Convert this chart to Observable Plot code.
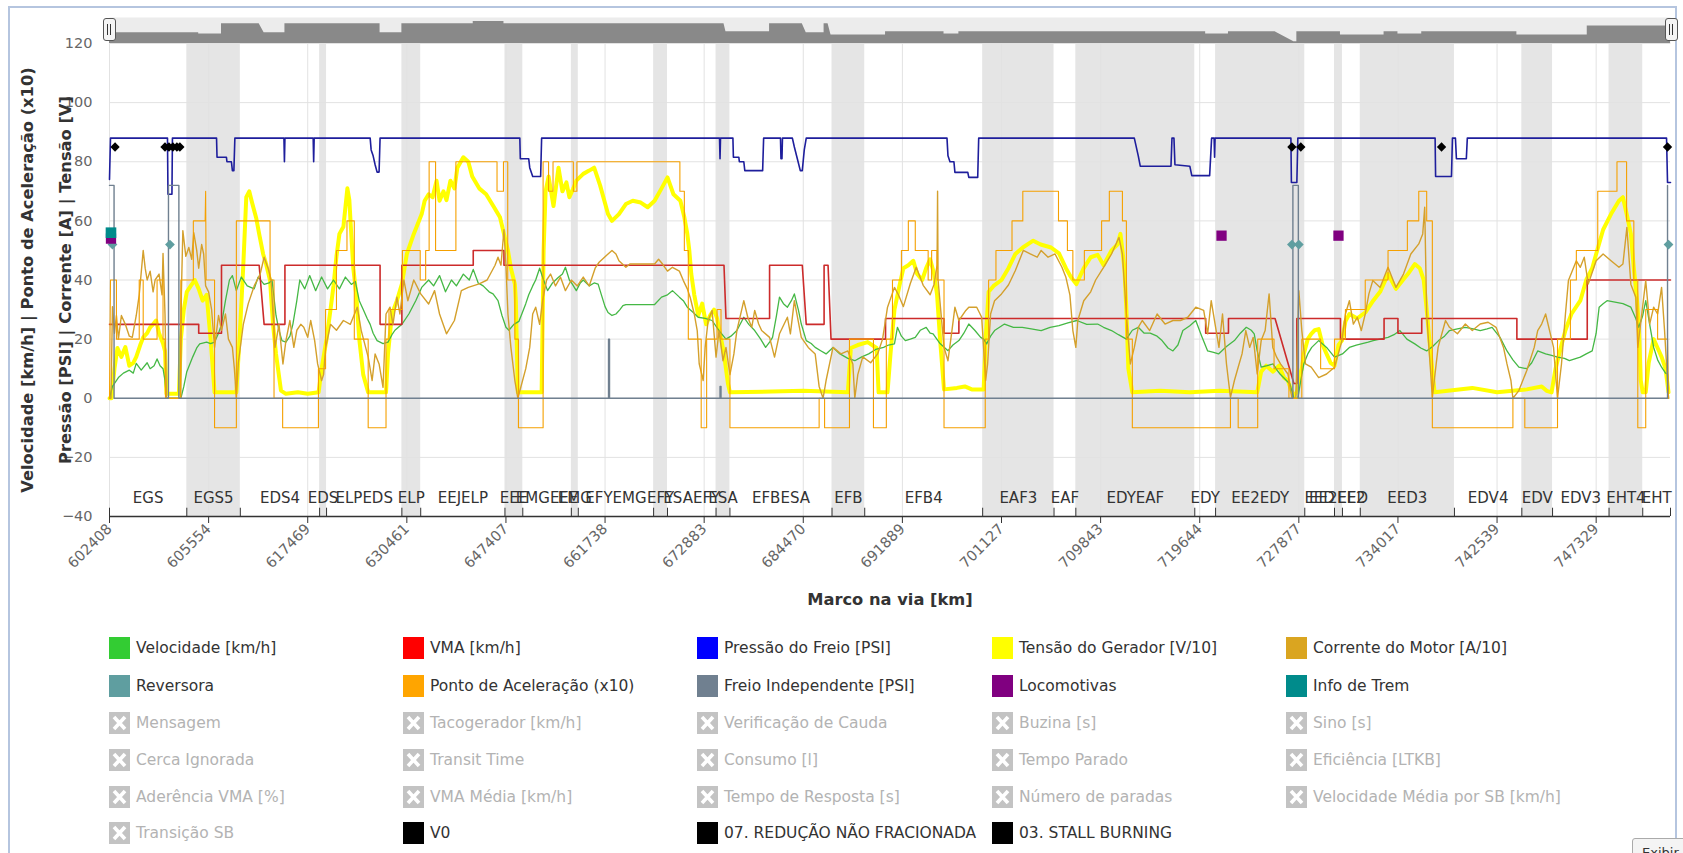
<!DOCTYPE html>
<html><head><meta charset="utf-8">
<script src="https://cdn.jsdelivr.net/npm/d3@7"></script>
<script src="https://cdn.jsdelivr.net/npm/@observablehq/plot@0.6"></script>
<style>
html,body{margin:0;padding:0;background:#fff;}
body{width:1683px;height:853px;overflow:hidden;position:relative;font-family:"DejaVu Sans",sans-serif;}
#frame{position:absolute;left:8px;top:6px;width:1669px;height:900px;border:2px solid #b5c5df;box-sizing:border-box;}
.abs{position:absolute;left:0;top:0;}
.handle{position:absolute;width:13px;height:23px;border:1px solid #555;border-radius:3px;background:#f4f4f4;box-sizing:border-box;}
.handle span{position:absolute;top:5px;width:0;height:11px;border-left:1.5px solid #333;}
.leg{position:absolute;height:22px;display:flex;align-items:center;font-size:15.5px;white-space:nowrap;}
.sw{width:21px;height:22px;margin-right:6px;flex:none;display:block;}
#exi{position:absolute;left:1632px;top:838px;width:60px;height:30px;border:1px solid #aaa;border-radius:3px;background:#f4f4f4;font-size:13px;padding:6px 0 0 9px;box-sizing:border-box;color:#333;}
</style></head><body>
<div id="frame"></div>
<div id="nav" class="abs"></div>
<div id="main" class="abs"></div>
<div id="legend"></div>
<div id="exi">Exibir</div>
<script>
// ---- axis / segment data ----
const xTickLabels = ["602408","605554","617469","630461","647407","661738","672883","684470","691889","701127","709843","719644","727877","734017","742539","747329"];
const xTickPos = [0,100,200,300,400,500,600,700,800,900,1000,1100,1200,1300,1400,1500];
const yTicks = [-40,-20,0,20,40,60,80,100,120];
const segStart = [0,78,132,212,219,295,314,399,417,466,473,549,563,612,626,729,762,881,953,975,1095,1116,1206,1236,1244,1262,1357,1425,1456,1513,1547];
const segEnd   = [78,132,212,219,295,314,399,417,466,473,549,563,612,626,729,762,881,953,975,1095,1116,1206,1236,1244,1262,1357,1425,1456,1513,1547,1575];
const segName  = ["EGS","EGS5","EDS4","EDS","ELPEDS","ELP","EEJELP","EEE","EMGEEE","EMG","EFYEMG","EFY","ESAEFY","ESA","EFBESA","EFB","EFB4","EAF3","EAF","EDYEAF","EDY","EE2EDY","EED","EE2EED","EE2","EED3","EDV4","EDV","EDV3","EHT4","EHT"];
const segGrey  = [0,1,0,1,0,1,0,1,0,1,0,1,0,1,0,1,0,1,0,1,0,1,0,1,0,1,0,1,0,1,0];

// ---- series (x = sample position, value) ----
const velocidade = [[0,0],[3,4],[9,7],[14,8.5],[20,9.5],[24,8.5],[27,11.8],[32,9.5],[38,12],[41,10],[45,11],[48,13.3],[51,11],[54,10],[56,6],[57.5,0],[72,0],[75,4],[78,9],[84,14],[88,17],[91,18.4],[98,19],[102,18.5],[106,19],[110,22],[113,25],[117,33],[121,40],[124,41.5],[128,36.4],[133,41],[139,38],[146,37],[150,41],[156,38.5],[161,39],[164,40],[168,28],[171,23],[174,19.5],[178,19],[182,21],[185,25],[189,33],[192,40],[197,37],[202,41.5],[208,36.4],[214,41],[220,37],[226,40],[232,37],[238,41],[244,38.5],[248,39.5],[252,33],[256,30],[260,27],[263,25],[266,22],[270,19.5],[276,18.5],[281,19],[285,21.5],[288,23],[295,25],[302,28.5],[309,33],[315,37.5],[322,40],[327,38],[333,41.5],[339,36],[345,40],[350,38],[357,42],[363,40],[367,43.6],[372,39],[377,38],[383,36],[387,35.3],[392,33],[396,28],[400,24],[403,23],[408,25],[413,26],[416,28.5],[420,32],[423,35],[427,38],[430,40],[434,44],[438,40],[442,36.4],[447,39],[453,40.9],[457,42],[460,44.3],[464,40],[467,38.6],[471,36.4],[475,39],[478,40],[484,38],[489,39],[493,38.6],[496,35.3],[500,31],[503,29],[507,28],[511,28.5],[515,30],[518,31.3],[521,31.7],[535,31.7],[550,31.7],[557,34.2],[563,35],[568,36.4],[575,34.2],[579,33],[583,30.8],[589,29],[594,27.4],[601,27],[608,26.3],[615,22.9],[622,20],[627,21],[633,22.9],[640,27.4],[645,25],[651,22.9],[657,20],[662,17.2],[666,19],[669,20.6],[673,28],[676,34.2],[680,32],[684,30.8],[688,33],[691,35.3],[695,30],[698,25.1],[703,19.5],[708,18.5],[712,17.2],[718,16],[723,15],[730,17.2],[737,15],[745,13.5],[752,12.7],[759,14],[766,15],[773,16.5],[781,17.2],[786,18],[792,18.4],[795,24],[799,21],[803,19.5],[808,20],[813,20.6],[818,23],[824,24],[828,22],[831,21.8],[838,18.5],[846,16.1],[851,18],[857,19.5],[862,22],[867,25.1],[873,23],[879,20.6],[882,20],[885,18.4],[889,21],[893,22.9],[898,24],[903,25.1],[912,24],[921,24],[930,23.5],[940,22.9],[949,24],[958,24.6],[967,25.5],[976,26.3],[986,25],[997,25.1],[1003,24],[1011,22.9],[1018,21.5],[1026,20],[1032,23],[1038,24],[1044,22],[1050,22],[1057,21],[1062,19.5],[1068,17],[1073,16],[1078,18],[1083,22.9],[1090,24.5],[1096,26.3],[1102,21],[1108,16],[1114,15.5],[1119,15],[1127,17.5],[1135,19.5],[1141,22],[1147,24],[1152,23],[1155,21.8],[1158,16],[1162,10.5],[1168,11],[1174,11.6],[1178,9.5],[1181,8.2],[1186,6.5],[1191,4.8],[1195,0],[1199,0],[1202,6],[1205,11.6],[1209,15],[1213,17.2],[1220,19.5],[1228,17.2],[1236,13.9],[1244,15],[1251,17.2],[1258,18],[1263,18.4],[1270,19],[1275,19.5],[1282,20],[1290,20.6],[1296,21.5],[1302,22.9],[1309,20],[1317,18.4],[1323,17],[1329,16],[1335,17.5],[1341,19.5],[1347,21],[1352,22.9],[1360,23.5],[1368,24],[1376,23.5],[1383,22.9],[1390,23.5],[1395,24],[1403,20.6],[1410,16],[1416,13],[1422,10.5],[1430,10],[1435,12],[1441,16],[1449,15],[1455,14.5],[1461,13.9],[1468,13.5],[1473,12.7],[1480,13.5],[1484,13.9],[1490,15],[1496,16],[1500,22],[1503,30.8],[1507,32],[1511,33],[1519,32.5],[1527,32],[1535,30.8],[1540,27],[1543,24],[1547,28],[1550,33],[1554,25],[1558,17.2],[1562,13],[1566,10.5],[1570,8.5],[1572,8.2],[1573,0]];

const vma = [[0,25],[90,25],[90,22],[113,22],[113,45],[151,45],[156,25],[177,25],[177,45],[273,45],[273,25],[295,25],[295,45],[367,45],[367,50],[398,50],[398,45],[620,45],[622,27],[666,27],[666,45],[699,45],[703,25],[721,25],[721,45],[725,45],[728,20],[783,20],[783,27],[842,27],[842,22],[857,22],[857,27],[1106,27],[1106,22],[1129,22],[1129,27],[1176,27],[1195,5],[1198,5],[1198,27],[1242,27],[1242,20],[1286,20],[1286,27],[1300,27],[1300,22],[1324,22],[1324,27],[1420,27],[1420,20],[1491,20],[1491,40],[1575,40]];

const pressaoFreio = [[0,74],[1,88],[58.5,88],[59,69],[63,69],[63.5,88],[108,88],[108.5,81.5],[118,81.5],[118.5,80],[123,80],[124,77],[125.5,77],[126.5,88],[176,88],[176.5,80],[177,88],[205.5,88],[206,80],[206.5,88],[263,88],[264,84],[266,82],[268,79],[270,76.5],[272,76.5],[273,88],[414,88],[414.5,81],[423,81],[424,78],[427,75],[435,75],[436,88],[615.5,88],[616,81],[616.5,88],[629,88],[629.5,81.5],[635,81.5],[635.5,80],[640,80],[641,77],[659,77],[660,88],[677,88],[677.5,81],[678.5,81],[679,88],[689,88],[691,85],[694,81],[697,77],[699,77],[701,84],[703,88],[845,88],[846,82],[848,80],[852,80],[853,76.4],[866,76.4],[867,74.7],[876,74.7],[877,88],[1034,88],[1038,82],[1040,78.5],[1071,78.5],[1072,88],[1074,88],[1075,79],[1090,78.5],[1092,75.3],[1110,75.3],[1112,88],[1114.5,88],[1115,81.5],[1115.5,88],[1192,88],[1192.5,73],[1198,73],[1199,88],[1337.5,88],[1338,75],[1354,75],[1355,88],[1358,88],[1359,81],[1369,81],[1370,88],[1571,88],[1572,73],[1575,73]];

const tensaoGerador = [[0,0],[2,0],[5,10],[8,17],[12,14],[16,17.3],[20,11],[24,12],[27,14],[31,18],[34,20.6],[38,22],[41,24],[44,25],[47,26.3],[50,22],[54,18.5],[56,16],[57.5,1.5],[70,1.5],[72,20],[75,30],[78,36],[82,38],[86,40],[90,37],[94,33],[98,35],[102,20],[106,2],[128,2],[132,25],[135,45],[138,68],[141,70],[144,66],[148,61],[151,55.6],[155,48.8],[158,45.4],[162,39.8],[165,25],[168,15],[173,2.6],[178,1.5],[190,2],[200,1.5],[211,2],[214,10],[219,20],[223,30],[226,38],[229,48],[232,55.6],[236,58],[240,71],[242,67],[244,55],[246,44],[249,35],[252,20],[256,8],[261,2],[279,2],[281,15],[285,28.5],[290,33],[295,38.6],[300,48.8],[307,55.6],[315,62.3],[318,66.8],[322,69],[326,68],[330,73.6],[333,66.8],[337,70],[340,67],[344,73.6],[348,71],[351,78],[357,81.5],[362,80],[366,75],[373,71],[380,69],[388,64.6],[394,61.2],[398,55.6],[402,50],[405,44],[409,38.6],[410,33],[412,2],[436,2],[438,50],[440,70],[443,75],[448,65],[453,78],[457,70],[461,73],[464,68],[468,71],[471,73.6],[478,75.9],[484,77],[489,78],[495,72],[503,62.3],[507,60],[514,62.3],[521,65.7],[528,66.8],[536,66.2],[543,64.6],[550,66.8],[557,71],[563,74.7],[569,69],[576,66.8],[580,61.2],[583,55.6],[585,50],[587,42],[590,35],[594,28],[598,32],[602,25],[606,28],[610,30],[613,27],[616,22],[620,15],[624,5],[626,2],[700,2.5],[745,2],[748,17],[755,18],[765,19],[774,17],[776,2],[785,2],[788,15],[792,30],[797,38],[801,44],[806,45],[811,46.5],[815,42],[820,40],[824,44],[828,47],[832,42],[835,35],[838,20],[842,3],[855,3.5],[863,4],[870,3],[882,3],[884,20],[887,36],[892,38],[900,40],[907,44],[914,48.8],[921.5,51],[932,53.3],[939.5,52],[950,51],[958,49],[965,44],[970,41],[975.5,38.6],[983,44],[990,47.7],[997,48.5],[1003,45],[1011,50],[1017,52],[1020,55.6],[1022,50],[1024,44],[1026,30],[1028,10],[1032,2],[1060,2.5],[1090,2],[1120,2.5],[1158,2],[1162,9],[1167,11],[1174,9],[1180,11],[1185,7],[1189,6],[1192,3],[1195,1],[1198,2],[1201,8],[1203,10],[1205,15],[1209,20],[1212.5,21.8],[1216,23],[1220,23.4],[1224,18],[1228,15],[1232,12],[1236,11],[1240,18],[1243.5,19.5],[1247,26],[1251,28.5],[1259,27],[1267,29],[1275,33],[1282,36],[1290,42],[1298,37],[1305,40],[1310,42],[1317,45.4],[1322,44],[1326,40],[1329,30],[1333,15],[1337,2],[1375,3.5],[1400,2],[1430,3],[1445,4],[1450,2.5],[1455,2],[1459,10],[1465,18],[1469,23],[1475,28.5],[1484,33],[1490,40],[1496,44],[1500,48.8],[1507,57],[1515,62.3],[1523,66.8],[1527,68],[1531,62],[1535,55.6],[1538,44],[1541,34],[1543,25],[1545,6],[1547,2],[1550,2],[1553,12],[1558,20],[1562,17],[1566,14],[1570,10],[1573,2]];

const correnteMotor = [[0,0],[1.5,0],[3,31],[5,22],[7,28],[9,20],[12,28],[16,25],[20,21],[23,20.6],[27,28],[30,35],[34,50],[36,44],[38,40],[41,43],[44,36],[46,40],[50,42],[53,35],[54,49],[56,28.5],[57.5,0],[72,0],[72.5,35],[74,56.7],[77,48],[80,51],[83,47],[85,56],[88,50],[90,44],[93,52],[95,48.8],[97,38],[100,36],[103,30],[106,17.2],[110,28],[113,23],[117,28.5],[120,20],[124,17.2],[126,10],[128,0],[130,12],[135,25],[140,32],[146,38],[152,42],[156,47.7],[160,44],[163,40],[165,28.5],[167,17.2],[171,25],[175,11.6],[178,19.5],[182,26.3],[186,17.2],[189,23],[193,25],[196,24],[200,20.6],[203,26.3],[207,19.5],[210,11.6],[214,6],[216,8],[218,17],[223,25],[229,23],[236,26.3],[243,25],[250,30.8],[254,22.9],[261,13.9],[265,6],[268,15],[272,11.6],[276,3.7],[279,28.5],[283,30.8],[286,25],[290,34.2],[293,28.5],[297,40],[301,33],[307,40],[314,35.3],[322,31.9],[328,36.4],[333,28.5],[340,21.8],[348,26.3],[355,36.4],[362,37.5],[373,38.7],[381,40],[389,45],[392,47.7],[395,45],[398,57],[400,45],[402,28.5],[405,17.2],[409,6],[412,0],[420,10],[424,17.2],[427,28.5],[430,30.8],[434,25],[437,33],[441,40],[445,42],[450,38],[455,41],[460,36.4],[466,40],[472,38],[478,41],[484,38],[490,44],[494,46],[503,48.8],[507,50],[511,48.8],[514,46.5],[521,44.3],[525,45.4],[536,45.4],[550,45.4],[554,47],[558,45.4],[563,43],[568,44.3],[575,43],[579,39.8],[583,37],[586,34],[590,28.5],[593,22.9],[595,11.6],[599,6],[601,17.2],[604,26.3],[608,29.7],[612,13.9],[615,22.9],[619,12.7],[622,17.2],[626,8],[630,15],[633,22.9],[640,33],[644,27.4],[648,24],[651,29.7],[655,25.1],[658,22.9],[666,20.6],[671,13.9],[676,21.8],[684,27.4],[687,21.8],[691,33],[698,20.6],[705,17.2],[712,15],[716,4],[720,0],[723,6],[730,17.2],[738,15],[745,16],[750,11.6],[752,0],[755,8],[760,14],[768,12],[775,15],[780,20],[785,30.8],[792,37.5],[796,35],[801,31],[808,38.8],[814,44.3],[821,38.2],[828,35],[832,38.6],[835,45],[835.5,70],[836,40],[842,17.2],[846,12.7],[850,22.9],[853,30.8],[857,26.3],[864,29.7],[867,30.8],[875,30.8],[880,27.4],[884,6],[886,11.6],[889,28.5],[893,33],[900,35.3],[907,38.3],[914,43.2],[922,50],[929,48.8],[936,47.7],[940,50],[947,47.7],[954,48.8],[961,44.3],[965,40.9],[969,35],[972,22.9],[975,17.2],[977,26.3],[983,33],[990,36],[995,40],[1003,44.3],[1011,48.8],[1018.5,54.4],[1022,48.8],[1026,28.5],[1030,11.6],[1034,17.2],[1038,24],[1042,26.3],[1049.5,22.9],[1057,28.5],[1065,25.1],[1073,26.3],[1080.6,26.3],[1088,27.4],[1096,30.8],[1104,29.7],[1108,21.8],[1111.6,33],[1115.5,25.1],[1119.4,17.2],[1123,28.5],[1127,11.6],[1131,0.3],[1135,6],[1138.8,10.5],[1142.7,15],[1146.5,22.9],[1150.4,17.2],[1154,20.6],[1158,8.2],[1162,19.5],[1166,22.9],[1170,35.3],[1173.7,17.2],[1177.6,13.9],[1181.5,11.6],[1189,8.2],[1193,0],[1197,0],[1200,36.4],[1203,22.9],[1206.7,11.6],[1212.5,10.5],[1220,7],[1228,8.2],[1236,10.5],[1243.5,19.5],[1247,28.5],[1251,33],[1255,25.1],[1259,27.4],[1263,22.9],[1267,28.5],[1270.7,35.3],[1274.6,39.8],[1282,37.5],[1290,44.3],[1298,37.5],[1305.6,42],[1313,48.8],[1321,52.2],[1325,55.6],[1327,64.6],[1329,28.5],[1334.7,0.3],[1340.5,17.2],[1348,26.3],[1352,24],[1360,21.8],[1368,25.1],[1375,22.9],[1383,25.1],[1391,25.7],[1399,24],[1406.5,17.2],[1410,11.6],[1414,6],[1416,0],[1422,2.6],[1430,9.4],[1437.5,17.2],[1441,22.9],[1445,25.1],[1449,28.5],[1453,22.9],[1457,17.2],[1461,0],[1465,11.6],[1469,28.5],[1472,39.8],[1480,46.5],[1484,44.3],[1488,47.7],[1492,38.6],[1500,46.5],[1507,48.8],[1515,46.5],[1523,44.3],[1527,45.4],[1531,57.8],[1535,38.6],[1540,34.2],[1542,17.2],[1546,28.5],[1550,39.8],[1554,25.1],[1558,30.8],[1562,28.5],[1566,37.5],[1569,22.9],[1573,0]];

const pontoAceleracao = [[0,0],[1,40],[7,40],[7,20],[30,20],[30,40],[34,40],[34,20],[48,20],[48,40],[54,40],[54,20],[56,20],[56.5,0],[71.5,0],[72,40],[84.6,40],[84.6,60],[96.5,60],[97,70],[97.5,40],[106,40],[106,-10],[128,-10],[128,60],[162,60],[162,40],[166,40],[166,0],[174.7,0],[174.7,-10],[210.8,-10],[210.8,10],[218,10],[218,30],[229,30],[229,50],[239.6,50],[239.6,60],[247,60],[247,20],[261,20],[261,-10],[279,-10],[279,20],[282,20],[282,30],[295.5,30],[295.5,50],[313.5,50],[313.5,40],[319,40],[319,50],[322.5,50],[322.5,80],[329,80],[329,50],[349.5,50],[349.5,80],[391,80],[391,70],[397.5,70],[397.5,80],[401.8,80],[401.8,40],[409,40],[409,20],[412.6,20],[412.6,-10],[437.5,-10],[437.5,80],[443,80],[443,70],[447.5,70],[447.5,80],[468,80],[468,70],[471.6,70],[471.6,80],[575.5,80],[575.5,70],[580,70],[580,50],[584,50],[584,20],[597,20],[597,-10],[602.5,-10],[602.5,20],[613,20],[613,30],[617,30],[617,20],[626,20],[626,-10],[716,-10],[716,0],[721.5,0],[721.5,-10],[746.6,-10],[746.6,20],[770.8,20],[770.8,-10],[783.8,-10],[783.8,20],[790,20],[790,40],[799,40],[799,50],[806,50],[806,60],[813,60],[813,50],[826,50],[826,40],[829.5,40],[829.5,50],[835,50],[835,40],[842,40],[842,-10],[883.6,-10],[883.6,20],[887,20],[887,40],[894.4,40],[894.4,50],[910.6,50],[910.6,60],[921.5,60],[921.5,70],[957.5,70],[957.5,60],[966.5,60],[966.5,50],[972,50],[972,40],[983.6,40],[983.6,50],[1001,50],[1001,60],[1008.8,60],[1008.8,70],[1022,70],[1022,60],[1026,60],[1026,20],[1032,20],[1032,-10],[1131,-10],[1131,0],[1138.8,0],[1138.8,-10],[1158.5,-10],[1158.5,20],[1175,20],[1175,10],[1190,10],[1190,0],[1203,0],[1203,20],[1222,20],[1222,10],[1236,10],[1236,20],[1247,20],[1247,30],[1267,30],[1267,40],[1290,40],[1290,50],[1309.5,50],[1309.5,60],[1321,60],[1321,70],[1329,70],[1329,60],[1334.7,60],[1334.7,-10],[1416,-10],[1416,0],[1428,0],[1428,-10],[1461,-10],[1461,20],[1474,20],[1474,40],[1480,40],[1480,50],[1501.6,50],[1501.6,70],[1521,70],[1521,80],[1530.7,80],[1530.7,60],[1538,60],[1538,40],[1542,40],[1542,-10],[1550,-10],[1550,30],[1562,30],[1562,20],[1572,20],[1573,0]];

const freioIndependente = [[0,72],[4.6,72],[4.6,0],[59.5,0],[59.5,72],[70,72],[70,0],[503.5,0],[503.5,20],[504.5,20],[504.5,0],[616,0],[616,4],[617,4],[617,0],[1194,0],[1194,72],[1199.5,72],[1199.5,0],[1572,0],[1572,72]];

const reversora = [[3,52],[61,52],[1193,52],[1200,52],[1573,52]];
const infoTrem = [[1.5,56]];
const locomotivas = [[1.5,54],[1122,55],[1240,55]];
const v0 = [[5.6,85],[56,85],[1193,85]];
const reducaoNaoFracionada = [[60,85],[64,85],[1202,85],[1344,85]];
const stallBurning = [[68,85],[71,85],[1572,85]];

// ---- legend ----
const legendNames = ["Velocidade [km/h]","VMA [km/h]","Pressão do Freio [PSI]","Tensão do Gerador [V/10]","Corrente do Motor [A/10]",
 "Reversora","Ponto de Aceleração (x10)","Freio Independente [PSI]","Locomotivas","Info de Trem",
 "Mensagem","Tacogerador [km/h]","Verificação de Cauda","Buzina [s]","Sino [s]",
 "Cerca Ignorada","Transit Time","Consumo [l]","Tempo Parado","Eficiência [LTKB]",
 "Aderência VMA [%]","VMA Média [km/h]","Tempo de Resposta [s]","Número de paradas","Velocidade Média por SB [km/h]",
 "Transição SB","V0","07. REDUÇÃO NÃO FRACIONADA","03. STALL BURNING"];
const legendColors = ["#33cc33","#ff0000","#0000ff","#ffff00","#daa520",
 "#5f9ea0","#ffa500","#708090","#800080","#008b8b",
 null,null,null,null,null, null,null,null,null,null, null,null,null,null,null,
 null,"#000000","#000000","#000000"];

// ---- build ----
const P = d => d[0], V = d => d[1];
const segs = segStart.map((s, i) => ({s, e: segEnd[i], name: segName[i], grey: segGrey[i], mid: (s + segEnd[i]) / 2}));
const bounds = segStart.concat([segEnd[segEnd.length - 1]]);

const nav = Plot.plot({
  width: 1683, height: 44, marginLeft: 109, marginRight: 13, marginTop: 17, marginBottom: 0.5,
  x: {domain: [0, 1575], axis: null}, y: {domain: [0, 58.9], axis: null},
  style: {background: "transparent"},
  marks: [
    Plot.frame({fill: "#ececec", stroke: null}),
    Plot.areaY(vma, {x: P, y1: 0, y2: V, fill: "#898989"})
  ]
});
document.getElementById("nav").append(nav);

const main = Plot.plot({
  width: 1683, height: 640, marginLeft: 109, marginRight: 13, marginTop: 43, marginBottom: 124,
  x: {domain: [0, 1575]}, y: {domain: [-40, 120]},
  style: {fontFamily: "DejaVu Sans, sans-serif", background: "transparent", overflow: "visible"},
  marks: [
    Plot.rect(segs.filter(d => d.grey), {x1: "s", x2: "e", y1: -40, y2: 120, fill: "#e5e5e5"}),
    Plot.ruleY(yTicks.filter(t => t > -40), {stroke: "#e2e2e2"}),
    Plot.ruleX(xTickPos, {y1: -40, y2: 120, stroke: "#e2e2e2"}),
    Plot.line(tensaoGerador, {x: P, y: V, stroke: "#ffff00", strokeWidth: 4}),
    Plot.line(velocidade, {x: P, y: V, stroke: "#45b845", strokeWidth: 1.3}),
    Plot.line(vma, {x: P, y: V, stroke: "#cc2b2b", strokeWidth: 1.6}),
    Plot.line(pressaoFreio, {x: P, y: V, stroke: "#1e1e9c", strokeWidth: 1.6}),
    Plot.line(correnteMotor, {x: P, y: V, stroke: "#d4a02c", strokeWidth: 1.4}),
    Plot.line(pontoAceleracao, {x: P, y: V, stroke: "#f5a000", strokeWidth: 1.1}),
    Plot.line(freioIndependente, {x: P, y: V, stroke: "#708090", strokeWidth: 1.4}),
    Plot.dot(reversora, {x: P, y: V, symbol: "diamond2", r: 4.4, fill: "#5f9ea0", stroke: null}),
    Plot.dot(locomotivas, {x: P, y: V, symbol: "square", r: 5.8, fill: "#800080", stroke: null}),
    Plot.dot(infoTrem, {x: P, y: V, symbol: "square", r: 6, fill: "#008b8b", stroke: null}),
    Plot.dot(v0, {x: P, y: V, symbol: "diamond2", r: 4.2, fill: "#000", stroke: null}),
    Plot.dot(reducaoNaoFracionada, {x: P, y: V, symbol: "diamond2", r: 4.2, fill: "#000", stroke: null}),
    Plot.dot(stallBurning, {x: P, y: V, symbol: "diamond2", r: 4.2, fill: "#000", stroke: null}),
    Plot.ruleY([-40], {stroke: "#333", strokeWidth: 1.5}),
    Plot.ruleX(bounds, {y1: -40, y2: -37.2, stroke: "#333"}),
    Plot.text(segs, {x: "mid", y: -33.9, text: "name", fontSize: 15, fill: "#333"}),
    Plot.axisX({ticks: xTickPos, tickFormat: d => xTickLabels[Math.round(d / 100)], tickRotate: -45, tickSize: 7, tickPadding: 3, fontSize: 14.5, fill: "#666", stroke: "#333", label: null}),
    Plot.axisY({ticks: yTicks, tickSize: 0, tickPadding: 17, fontSize: 14.5, fill: "#666", label: null}),
    Plot.text(["Velocidade [km/h] | Ponto de Aceleração (x10)"], {frameAnchor: "left", dx: -82, rotate: -90, textAnchor: "middle", fontWeight: "bold", fontSize: 16.3, fill: "#333"}),
    Plot.text(["Pressão [PSI] | Corrente [A] | Tensão [V]"], {frameAnchor: "left", dx: -44, rotate: -90, textAnchor: "middle", fontWeight: "bold", fontSize: 16.3, fill: "#333"}),
    Plot.text(["Marco na via [km]"], {frameAnchor: "bottom", dy: 88, textAnchor: "middle", fontWeight: "bold", fontSize: 16.3, fill: "#333"})
  ]
});
document.getElementById("main").append(main);

// navigator handles
[109, 1671].forEach(cx => {
  const h = document.createElement("div");
  h.className = "handle";
  h.style.left = (cx - 6.5) + "px"; h.style.top = "18px";
  h.innerHTML = '<span style="left:3.5px"></span><span style="left:6.5px"></span>';
  document.body.append(h);
});

// legend
const colX = [109, 403, 697, 992, 1286];
const rowY = [648, 686, 723, 760, 797, 833];
const leg = document.getElementById("legend");
legendNames.forEach((name, i) => {
  const c = i % 5, r = Math.floor(i / 5);
  const el = document.createElement("div");
  el.className = "leg";
  el.style.left = colX[c] + "px";
  el.style.top = (rowY[r] - 11) + "px";
  const col = legendColors[i];
  if (col) {
    el.innerHTML = `<span class="sw" style="background:${col}"></span><span style="color:#333">${name}</span>`;
  } else {
    el.innerHTML = `<svg class="sw" viewBox="0 0 21 22"><rect width="21" height="22" fill="#c3c3c3"/><path d="M5 5 L16 17 M16 5 L5 17" stroke="#fff" stroke-width="3.6"/></svg><span style="color:#b3b3b3">${name}</span>`;
  }
  leg.append(el);
});
</script>
</body></html>
